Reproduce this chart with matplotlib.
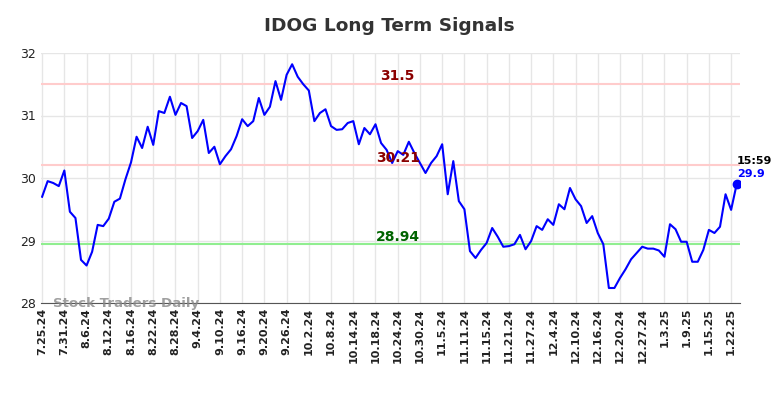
import matplotlib.pyplot as plt

# Daily closes, 7.25.24 through 1.23.25 (trading days)
closes = [
    29.70, 29.95, 29.92, 29.87, 30.12, 29.46, 29.36, 28.69, 28.60, 28.82,
    29.25, 29.23, 29.35, 29.62, 29.67, 29.98, 30.25, 30.66, 30.48, 30.82,
    30.53, 31.07, 31.04, 31.30, 31.01, 31.20, 31.15, 30.64, 30.75, 30.93,
    30.40, 30.50, 30.22, 30.35, 30.46, 30.67, 30.94, 30.83, 30.91, 31.28,
    31.01, 31.14, 31.55, 31.25, 31.65, 31.82, 31.62, 31.50, 31.40, 30.91,
    31.04, 31.10, 30.83, 30.77, 30.78, 30.88, 30.91, 30.54, 30.80, 30.70,
    30.86, 30.56, 30.45, 30.24, 30.43, 30.37, 30.58, 30.40, 30.24, 30.08,
    30.24, 30.35, 30.54, 29.74, 30.27, 29.63, 29.50, 28.83, 28.72, 28.85,
    28.96, 29.20, 29.06, 28.90, 28.91, 28.94, 29.09, 28.86, 28.99, 29.23,
    29.17, 29.34, 29.25, 29.58, 29.50, 29.84, 29.66, 29.55, 29.28, 29.39,
    29.12, 28.94, 28.24, 28.24, 28.40, 28.54, 28.70, 28.80, 28.90, 28.87,
    28.87, 28.84, 28.74, 29.26, 29.18, 28.98, 28.98, 28.66, 28.66, 28.85,
    29.17, 29.12, 29.22, 29.74, 29.49, 29.90,
]

tick_labels = [
    "7.25.24", "7.31.24", "8.6.24", "8.12.24", "8.16.24", "8.22.24", "8.28.24",
    "9.4.24", "9.10.24", "9.16.24", "9.20.24", "9.26.24", "10.2.24", "10.8.24",
    "10.14.24", "10.18.24", "10.24.24", "10.30.24", "11.5.24", "11.11.24",
    "11.15.24", "11.21.24", "11.27.24", "12.4.24", "12.10.24", "12.16.24",
    "12.20.24", "12.27.24", "1.3.25", "1.9.25", "1.15.25", "1.22.25",
]

upper, middle, lower = 31.5, 30.21, 28.94
last_time = "15:59"

x = list(range(len(closes)))
tick_pos = list(range(0, 4 * len(tick_labels), 4))

fig = plt.figure(figsize=(7.84, 3.98), dpi=100)
ax = fig.add_axes([41 / 784, 1 - 303 / 398, 699 / 784, 250 / 398])

ax.plot(x, closes, color="blue", lw=1.5, zorder=3)
ax.plot(x[-1], closes[-1], "o", color="blue", ms=6, zorder=4)

ax.axhline(upper, color="#ffcccc", lw=1.5, zorder=2)
ax.axhline(middle, color="#ffcccc", lw=1.5, zorder=2)
ax.axhline(lower, color="#90ee90", lw=1.5, zorder=2)

mid = 64
ax.text(mid, upper + 0.13, "31.5", color="#8b0000", fontsize=10, fontweight="bold", ha="center", va="center")
ax.text(mid, middle + 0.11, "30.21", color="#8b0000", fontsize=10, fontweight="bold", ha="center", va="center")
ax.text(mid, lower + 0.11, "28.94", color="#006400", fontsize=10, fontweight="bold", ha="center", va="center")

ax.text(x[-1], closes[-1] + 0.37, last_time, color="black", fontsize=8, fontweight="bold", ha="left", va="center")
ax.text(x[-1], closes[-1] + 0.16, str(closes[-1]), color="blue", fontsize=8, fontweight="bold", ha="left", va="center")

ax.text(2, 28.0, "Stock Traders Daily", color="#888888", alpha=0.8, fontsize=9.6, fontweight="bold", va="center", zorder=5)

# Format plot
ax.set_xlim(-0.2, 125.6)
ax.set_ylim(28, 32)
ax.set_yticks([28, 29, 30, 31, 32])
ax.set_xticks(tick_pos)
ax.set_xticklabels(tick_labels, rotation=90, fontsize=8, fontweight="bold")
ax.tick_params(axis="both", length=0, colors="#222222")
ax.tick_params(axis="y", labelsize=9)
ax.grid(True, color="#e6e6e6", lw=1)
ax.set_axisbelow(True)
for side in ["top", "right", "left"]:
    ax.spines[side].set_visible(False)
ax.spines["bottom"].set_color("#555555")

fig.text(389 / 784, 1 - 26 / 398, "IDOG Long Term Signals", ha="center", va="center",
         fontsize=13.3, fontweight="bold", color="#333333")

fig.savefig("out.png", dpi=100)
